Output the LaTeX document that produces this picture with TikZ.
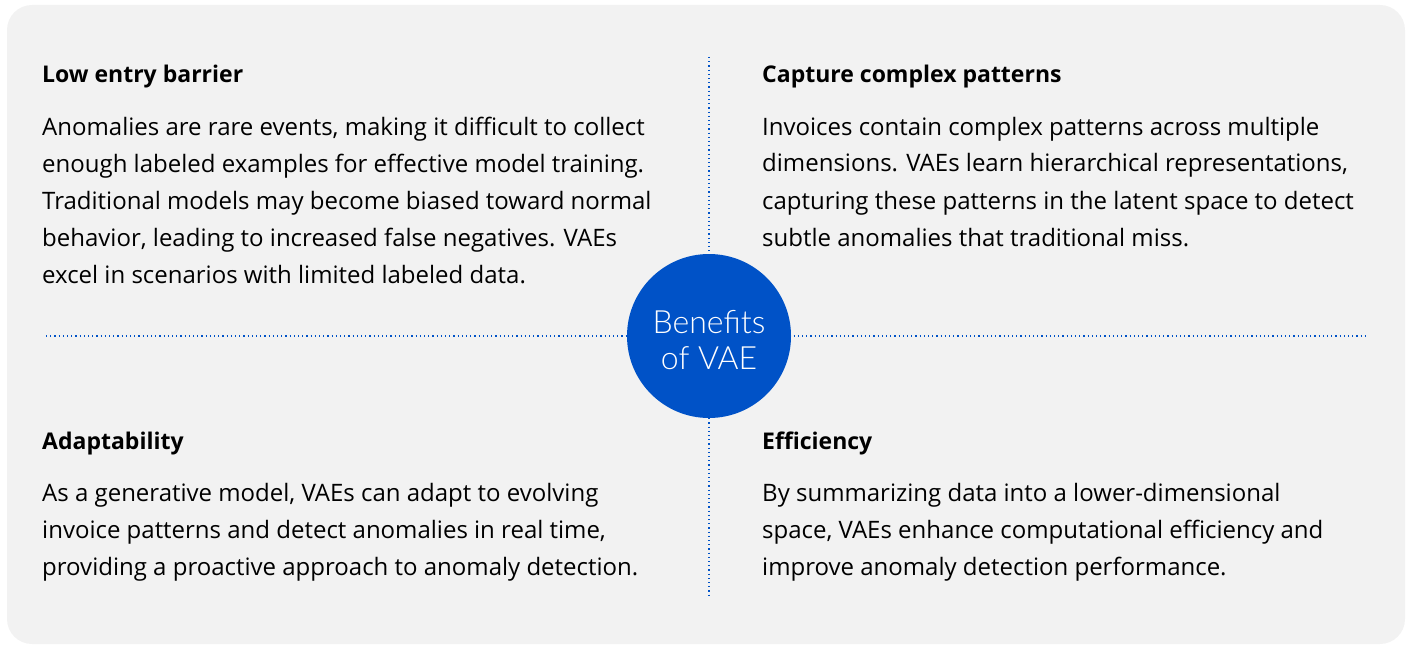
\documentclass[tikz,border=0pt]{standalone}
\usepackage{fontspec}
\setmainfont{Open Sans}
\newfontfamily\lightfont{Lato Light}
\definecolor{vaeblue}{RGB}{0,82,199}
\definecolor{panelgray}{RGB}{242,242,242}
\begin{document}
\begin{tikzpicture}[x=1pt,y=-1pt,
  head/.style={anchor=base west,inner sep=0pt,align=left,font=\fontsize{23}{28}\selectfont\bfseries},
  body/.style={anchor=base west,inner sep=0pt,align=left,font=\fontsize{24}{37}\selectfont},
  sep/.style={vaeblue,line width=1.2pt,dash pattern=on 1.2pt off 3pt}]
  \useasboundingbox (0,0) rectangle (1410,647);
  \fill[panelgray,rounded corners=25pt] (7,5) rectangle (1405,644);
  \coordinate (top) at (709,57);
  \coordinate (bot) at (709,598);
  \coordinate (lft) at (46,336);
  \coordinate (rgt) at (1365,336);
  \draw[sep] (top)--(bot);
  \draw[sep] (lft)--(rgt);
  \node[circle,fill=vaeblue,minimum size=164pt,inner sep=0pt] (hub) at (709,336) {};
  \node[text=white,align=center,anchor=base,inner sep=0pt,font=\lightfont\fontsize{32}{36}\selectfont] (hubtxt) at (709,369) {Benefits\\of VAE};
  % top left (base = last line)
  \node[head] (tlh) at (42,83) {Low entry barrier};
  \node[body] (tlb) at (42,283) {Anomalies are rare events, making it difficult to collect\\
    enough labeled examples for effective model training.\\
    Traditional models may become biased toward normal\\
    behavior, leading to increased false negatives. VAEs\\
    excel in scenarios with limited labeled data.};
  % top right
  \node[head] (trh) at (762,83) {Capture complex patterns};
  \node[body] (trb) at (762,246) {Invoices contain complex patterns across multiple\\
    dimensions. VAEs learn hierarchical representations,\\
    capturing these patterns in the latent space to detect\\
    subtle anomalies that traditional miss.};
  % bottom left
  \node[head] (blh) at (42,449) {Adaptability};
  \node[body] (blb) at (42,575) {As a generative model, VAEs can adapt to evolving\\
    invoice patterns and detect anomalies in real time,\\
    providing a proactive approach to anomaly detection.};
  % bottom right
  \node[head] (brh) at (762,449) {Efficiency};
  \node[body] (brb) at (762,575) {By summarizing data into a lower-dimensional\\
    space, VAEs enhance computational efficiency and\\
    improve anomaly detection performance.};
\end{tikzpicture}
\end{document}
